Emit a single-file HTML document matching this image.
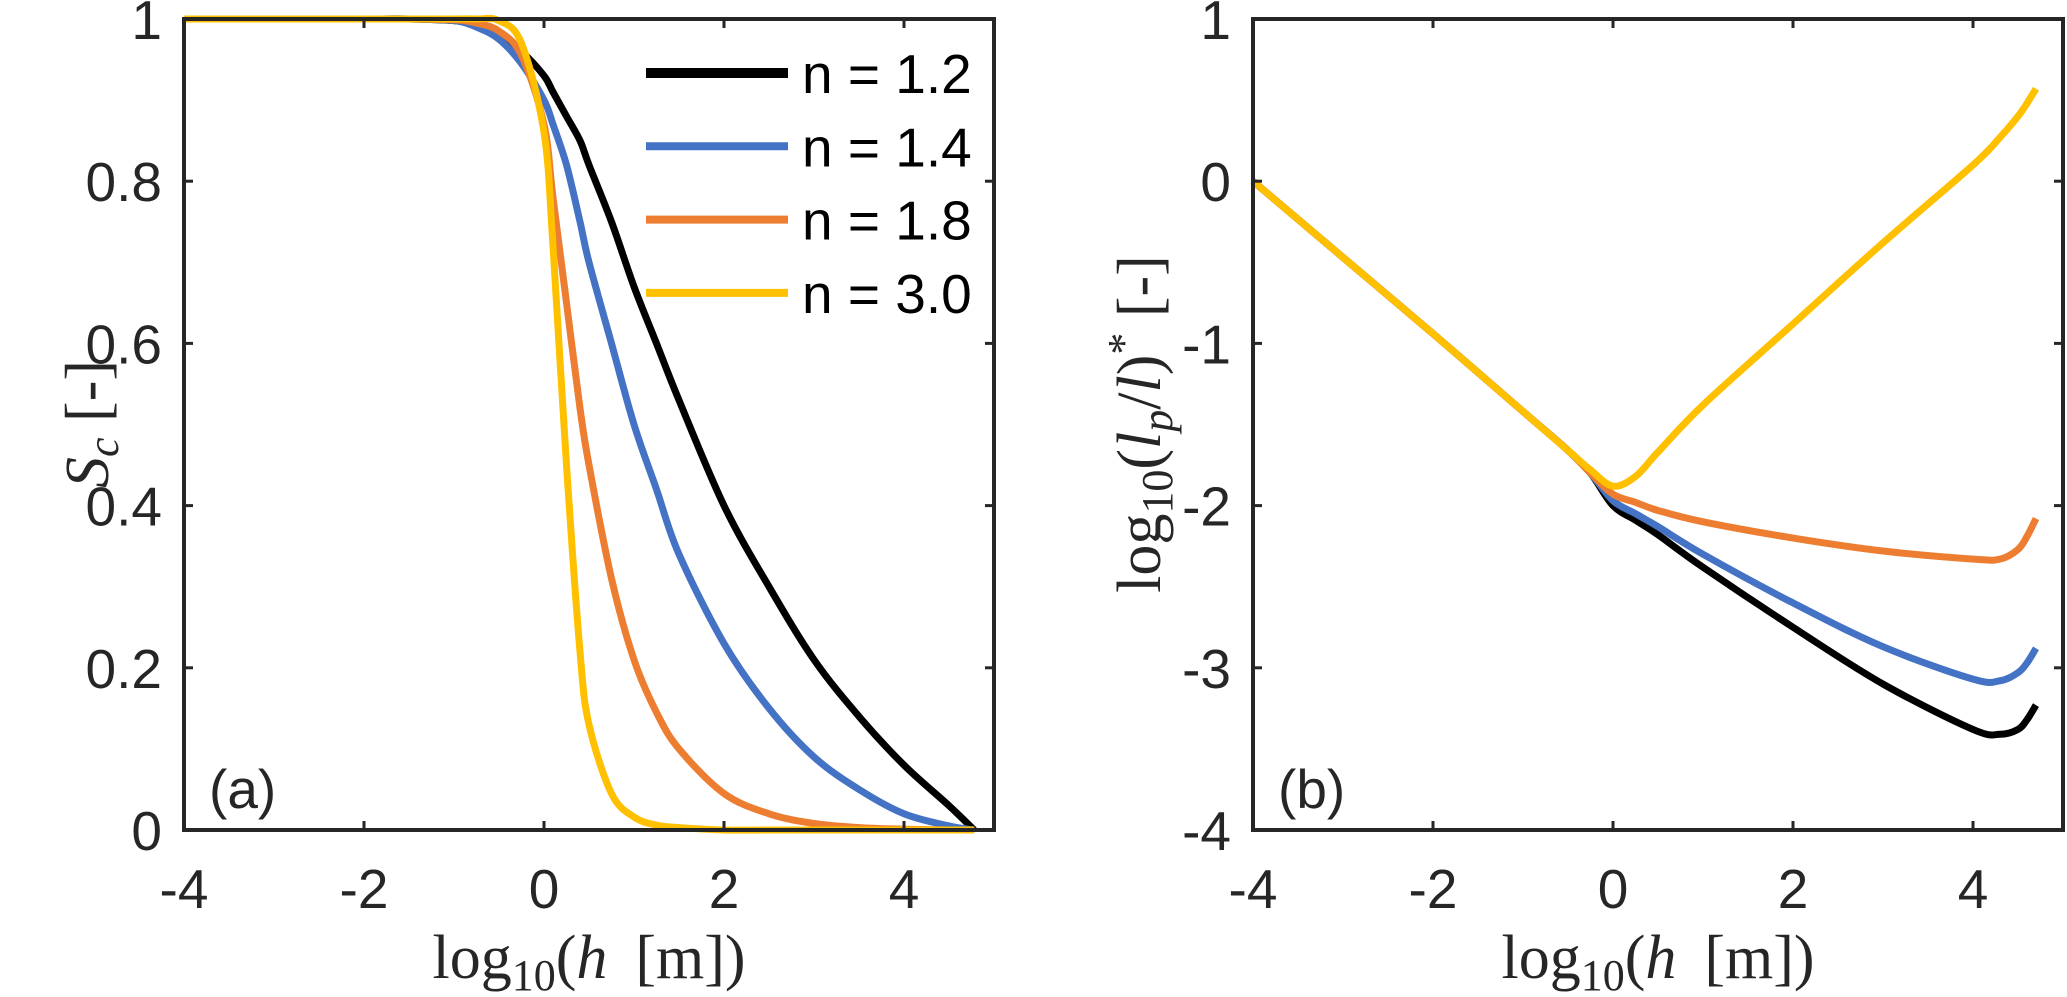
<!DOCTYPE html>
<html><head><meta charset="utf-8"><style>
html,body{margin:0;padding:0;background:#fff;}
svg{display:block;}
.tk{font-family:"Liberation Sans",sans-serif;font-size:55px;fill:#262626;}
.lab{font-family:"Liberation Serif",serif;font-size:62px;fill:#262626;}
</style></head><body>
<svg id="fig" width="2067" height="997" viewBox="0 0 2067 997"></svg>
<script>
const xTicks=[-4,-2,0,2,4];
const yTicksA=[0,0.2,0.4,0.6,0.8,1];
const yTickLabelsA=["0","0.2","0.4","0.6","0.8","1"];
const yTicksB=[-4,-3,-2,-1,0,1];
const seriesNames=["n = 1.2","n = 1.4","n = 1.8","n = 3.0"];
const seriesColors=["#000000","#4472C4","#ED7D31","#FFC000"];
// panel (a)
const xA=[-4,-2,-1.5,-1,-0.75,-0.5,-0.25,0,0.1,0.25,0.4,0.5,0.75,1,1.25,1.5,2,2.5,3,3.5,4,4.5,4.78];
const sA1=[1,1,1,0.998,0.993,0.98,0.96,0.93,0.91,0.88,0.85,0.82,0.75,0.67,0.60,0.53,0.40,0.30,0.21,0.14,0.08,0.03,0.0];
const sA2=[1,1,1,0.998,0.99,0.975,0.945,0.9,0.87,0.82,0.75,0.70,0.60,0.50,0.42,0.34,0.23,0.15,0.09,0.05,0.02,0.005,0.0];
const sA3=[1,1,1,0.999,0.995,0.985,0.955,0.87,0.78,0.65,0.52,0.45,0.31,0.21,0.145,0.10,0.045,0.02,0.008,0.003,0.001,0.0,0.0];
const sA4=[1,1,1,1,1,0.998,0.97,0.86,0.72,0.45,0.22,0.13,0.045,0.016,0.006,0.003,0.0,0,0,0,0,0,0];
// panel (b)
const xB=[-4,-3,-2,-1,-0.5,-0.25,0,0.25,0.5,1,2,3,4,4.3,4.5,4.6,4.7];
const sB1=[0,-0.47,-0.94,-1.42,-1.66,-1.8,-2.0,-2.09,-2.18,-2.38,-2.75,-3.1,-3.38,-3.41,-3.38,-3.32,-3.23];
const sB2=[0,-0.47,-0.94,-1.42,-1.66,-1.8,-1.97,-2.05,-2.13,-2.3,-2.6,-2.87,-3.07,-3.08,-3.03,-2.97,-2.88];
const sB3=[0,-0.47,-0.94,-1.42,-1.66,-1.8,-1.93,-1.98,-2.03,-2.1,-2.2,-2.28,-2.33,-2.33,-2.27,-2.19,-2.08];
const sB4=[0,-0.47,-0.94,-1.42,-1.66,-1.78,-1.88,-1.82,-1.67,-1.38,-0.88,-0.38,0.1,0.27,0.4,0.48,0.57];

const NS="http://www.w3.org/2000/svg";
const svg=document.getElementById('fig');
function el(t,a,p){const e=document.createElementNS(NS,t);for(const k in a)e.setAttribute(k,a[k]);(p||svg).appendChild(e);return e;}
function smoothPath(pts){
  let d='M'+pts[0][0]+','+pts[0][1];
  for(let i=0;i<pts.length-1;i++){
    const p0=pts[Math.max(0,i-1)],p1=pts[i],p2=pts[i+1],p3=pts[Math.min(pts.length-1,i+2)];
    const c1x=p1[0]+(p2[0]-p0[0])/6,c1y=p1[1]+(p2[1]-p0[1])/6;
    const c2x=p2[0]-(p3[0]-p1[0])/6,c2y=p2[1]-(p3[1]-p1[1])/6;
    d+=' C'+c1x+','+c1y+' '+c2x+','+c2y+' '+p2[0]+','+p2[1];
  }
  return d;
}
const plotTop=19,plotBot=830;
function panel(x0,ymin,ymax,yT,yL,xs,series,name,tag){
  const g=el('g',{});
  
  
  const X=v=>x0+(v+4)*90, Y=v=>plotBot-(v-ymin)/(ymax-ymin)*(plotBot-plotTop);
  series.forEach((s,i)=>{
    const p=el('path',{d:smoothPath(xs.map((x,j)=>[X(x),Y(s[j])])),fill:'none',stroke:seriesColors[i],'stroke-width':7,'stroke-linejoin':'round'},g);
    
    
  });
  const box=el('rect',{x:x0,y:plotTop,width:810,height:plotBot-plotTop,fill:'none',stroke:'#262626','stroke-width':4},g);
  
  
  xTicks.forEach(v=>{
    el('line',{x1:X(v),x2:X(v),y1:plotBot,y2:plotBot-9,stroke:'#262626','stroke-width':3},g);
    el('line',{x1:X(v),x2:X(v),y1:plotTop,y2:plotTop+9,stroke:'#262626','stroke-width':3},g);
    const t=el('text',{x:X(v),y:908,'text-anchor':'middle',class:'tk'},g);t.textContent=String(v);
    
    
  });
  yT.forEach((v,i)=>{
    el('line',{x1:x0,x2:x0+9,y1:Y(v),y2:Y(v),stroke:'#262626','stroke-width':3},g);
    el('line',{x1:x0+810,x2:x0+801,y1:Y(v),y2:Y(v),stroke:'#262626','stroke-width':3},g);
    const t=el('text',{x:x0-22,y:Y(v)+20,'text-anchor':'end',class:'tk'},g);t.textContent=yL[i];
    
    
  });
  const pl=el('text',{x:x0+25,y:808,class:'tk'},g);pl.textContent=tag;
  
  
  const xl=el('text',{x:x0+405,y:978,'text-anchor':'middle',class:'lab'},g);
  xl.innerHTML='log<tspan font-size="44" dy="12">10</tspan><tspan dy="-12">(</tspan><tspan font-style="italic">h</tspan>&#8201; [m])';
  
  
}
panel(184,0,1,yTicksA,yTickLabelsA,xA,[sA1,sA2,sA3,sA4],'panel-a','(a)');
panel(1253,-4,1,yTicksB,yTicksB.map(String),xB,[sB1,sB2,sB3,sB4],'panel-b','(b)');
// y titles
const ya=el('text',{transform:'translate(108,424) rotate(-90)','text-anchor':'middle',class:'lab'});
ya.innerHTML='<tspan font-style="italic">S</tspan><tspan font-style="italic" font-size="44" dy="10">c</tspan><tspan dy="-10"> [-]</tspan>';


const yb=el('text',{transform:'translate(1160,424) rotate(-90)','text-anchor':'middle',class:'lab'});
yb.innerHTML='log<tspan font-size="44" dy="12">10</tspan><tspan dy="-12">(</tspan><tspan font-style="italic">l</tspan><tspan font-style="italic" font-size="44" dy="12">p</tspan><tspan dy="-12">/</tspan><tspan font-style="italic">l</tspan>)<tspan font-size="44" dy="-22">*</tspan><tspan dy="22"> [-]</tspan>';


// legend
const lg=el('g',{});


seriesNames.forEach((n,i)=>{
  const y=73+i*73.3;
  el('line',{x1:646,x2:788,y1:y,y2:y,stroke:seriesColors[i],'stroke-width':i==0?10:8},lg);
  const t=el('text',{x:802,y:y+20,class:'tk',style:'fill:#000'},lg);t.textContent=n;
  
  
});
</script>
</body></html>
